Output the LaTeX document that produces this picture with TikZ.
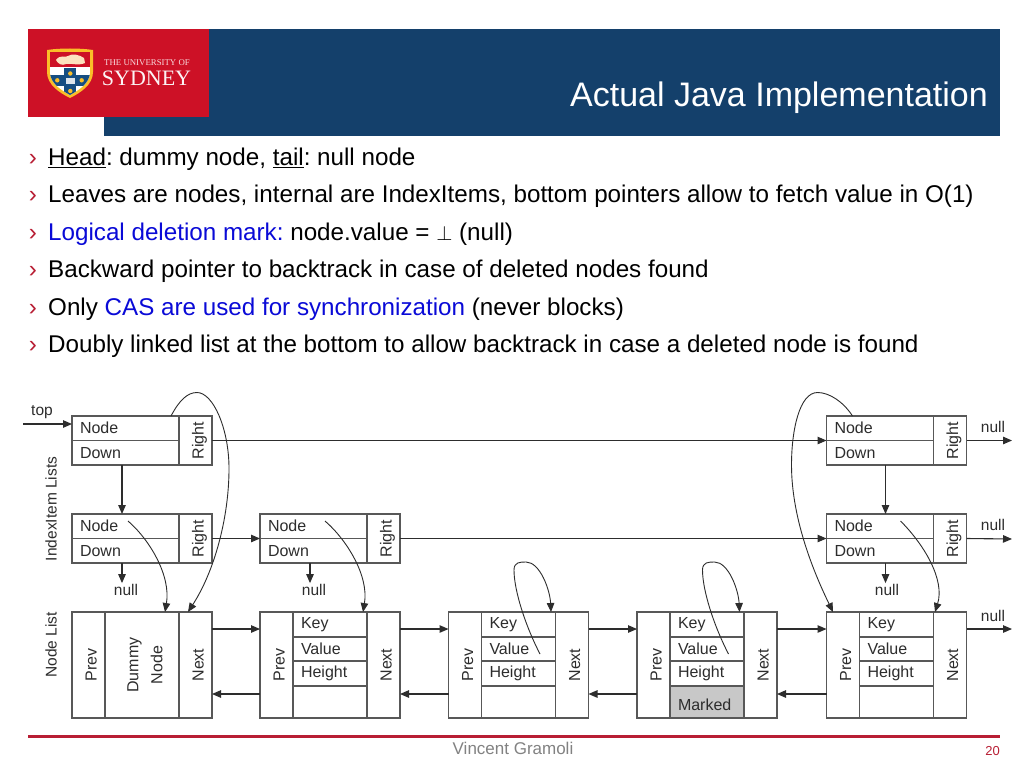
\documentclass[tikz,border=0pt]{standalone}
\usepackage{fontspec}
\usepackage{xcolor}
\usetikzlibrary{arrows.meta}
\setmainfont{Liberation Sans}
\newfontfamily\crestfont{Liberation Serif}
\frenchspacing
\definecolor{sydneyred}{RGB}{205, 17, 38}
\definecolor{sydneyblue}{RGB}{20, 64, 107}
\definecolor{footerred}{RGB}{184, 30, 52}
\definecolor{crestgold}{RGB}{250, 190, 40}
\definecolor{crestblue}{RGB}{22, 78, 130}
\definecolor{crestcream}{RGB}{252, 226, 190}
\definecolor{linkblue}{RGB}{10, 10, 215}
\definecolor{boxgray}{RGB}{88, 88, 88}
\definecolor{labelgray}{RGB}{45, 45, 45}
\definecolor{markedgray}{RGB}{200, 200, 200}
\definecolor{footergray}{RGB}{130, 130, 130}

\tikzset{
  cell/.style={draw=boxgray, line width=1.2pt, inner sep=0pt, outer sep=0pt, text=labelgray,
    font=\fontsize{16}{25}\selectfont},
  lefttext/.style={cell, align=left, inner xsep=8pt, text width=#1-16pt, minimum width=#1},
  sidetext/.style={cell, rotate=90, align=center, text height=16pt, text depth=0pt},
  link/.style={draw=labelgray, line width=1.1pt, -{Stealth[length=9pt,width=7.5pt,inset=0pt]}},
  curvelink/.style={link, line width=0.9pt},
  smalllabel/.style={inner sep=1pt, text=labelgray, font=\fontsize{15.5}{18}\selectfont},
  item/.style={anchor=base west, inner sep=0pt, font=\fontsize{24.2}{28}\selectfont},
  bulletmark/.style={anchor=base, inner sep=0pt, text=footerred, font=\fontsize{24.2}{28}\selectfont}
}

% name, x, y
\newcommand{\indexitem}[3]{
  \node[cell, minimum width=140, minimum height=49] (#1) at (#2+70,#3+24.5) {};
  \node[lefttext=107, minimum height=24.5] (#1node) at (#2+53.5,#3+12.25) {Node};
  \node[lefttext=107, minimum height=24.5] (#1down) at (#2+53.5,#3+36.75) {Down};
  \node[sidetext, minimum width=49, minimum height=33] (#1right) at (#2+123.5,#3+24.5) {Right};
}
% name, x
\newcommand{\listitem}[2]{
  \node[cell, minimum width=140, minimum height=106] (#1) at (#2+70,665) {};
  \node[sidetext, minimum width=106, minimum height=33] (#1prev) at (#2+16.5,665) {Prev};
  \node[lefttext=74, minimum height=25] (#1key) at (#2+70,624.5) {Key};
  \node[lefttext=74, minimum height=24] (#1value) at (#2+70,649) {Value};
  \node[lefttext=74, minimum height=25] (#1height) at (#2+70,673.5) {Height};
  \node[lefttext=74, minimum height=32] (#1low) at (#2+70,702) {};
  \node[sidetext, minimum width=106, minimum height=33] (#1next) at (#2+123.5,665) {Next};
}

\begin{document}
\begin{tikzpicture}[x=1pt, y=-1pt]
\useasboundingbox (0,0) rectangle (1024,768);
\fill[white] (0,0) rectangle (1024,768);

% header
\fill[sydneyblue] (104,29) rectangle (1000,135.5);
\fill[sydneyred] (28,29) rectangle (208.5,117);
\node[anchor=base east, inner sep=0pt, text=white, font=\fontsize{34}{40}\selectfont] (title) at (988,106) {Actual Java Implementation};

% crest
\fill[crestgold] (47,50) .. controls (60,48) and (80,48) .. (93,50) -- (93,72) .. controls (93,85) and (80,93) .. (70,98) .. controls (60,93) and (47,85) .. (47,72) -- cycle;
\begin{scope}
\clip (50,52) -- (90,52) -- (90,72) .. controls (90,83) and (79,90) .. (70,95) .. controls (61,90) and (50,83) .. (50,72) -- cycle;
\fill[white] (50,52) rectangle (90,96);
\fill[sydneyred] (50,52) rectangle (90,67);
\fill[crestblue] (50,75) rectangle (90,85.5);
\fill[crestblue] (64,68) rectangle (76,96);
\end{scope}
\fill[crestcream] (56,60) .. controls (60,54) and (66,58) .. (68,56) .. controls (72,53) and (80,55) .. (84,58) -- (85,63) .. controls (78,66) and (72,63) .. (66,64) .. controls (62,66) and (58,64) .. (56,60) -- cycle;
\fill[crestgold] (70.3,73.5) circle (2.2) (57.3,80.3) circle (2.2) (81.7,80.3) circle (2.2) (70.3,91) circle (2.2);
\fill[white!85!crestblue] (65.5,77.5) rectangle (75,83.5);
\node[anchor=base, inner sep=0pt, text=white!85!sydneyred, font=\crestfont\fontsize{8.8}{10}\selectfont] (crestuni) at (147,65) {THE UNIVERSITY OF};
\node[anchor=base, inner sep=0pt, text=white!95!sydneyred, font=\crestfont\fontsize{22}{24}\selectfont] (crestname) at (146.5,85) {SYDNEY};

% bullets
\node[item] (item1) at (48,165.5) {\underline{Head}: dummy node, \underline{tail}: null node};
\node[item] (item2) at (48,202.9) {Leaves are nodes, internal are IndexItems, bottom pointers allow to fetch value in O(1)};
\node[item] (item3) at (48,240.3) {\textcolor{linkblue}{Logical deletion mark:} node.value = {\fontsize{20}{22}\selectfont$\perp$} (null)};
\node[item] (item4) at (48,277.7) {Backward pointer to backtrack in case of deleted nodes found};
\node[item] (item5) at (48,315.1) {Only \textcolor{linkblue}{CAS are used for synchronization} (never blocks)};
\node[item] (item6) at (48,352.5) {Doubly linked list at the bottom to allow backtrack in case a deleted node is found};
\foreach \n in {1,...,6}
  \node[bulletmark] (mark\n) at ([shift={(-15,0)}]item\n.base west) {›};

% index items
\indexitem{top1}{72}{416}
\indexitem{top2}{826.5}{416}
\indexitem{mid1}{72}{514}
\indexitem{mid2}{260}{514}
\indexitem{mid3}{826.5}{514}

% node list
\node[cell, minimum width=140, minimum height=106] (dummy) at (142,665) {};
\node[sidetext, minimum width=106, minimum height=33] (dummyprev) at (88.5,665) {Prev};
\node[cell, draw=none, rotate=90, align=center, font=\fontsize{16}{24}\selectfont] (dummymid) at (145,665) {Dummy\\Node};
\node[sidetext, minimum width=106, minimum height=33] (dummynext) at (195.5,665) {Next};
\listitem{list2}{260}
\listitem{list3}{448.5}
\listitem{list4}{637}
\listitem{list5}{826.5}
\node[lefttext=74, minimum height=32, fill=markedgray, line width=1.5pt, text height=16pt, text depth=0pt] (marked) at (list4low) {Marked};

% labels
\node[smalllabel] (toplabel) at (42,412) {top};
\node[smalllabel, rotate=90] (indexlabel) at (51,509) {IndexItem Lists};
\node[smalllabel, rotate=90] (listlabel) at (51,645) {Node List};
\node[smalllabel] (null1) at (126,590) {null};
\node[smalllabel] (null2) at (314,590) {null};
\node[smalllabel] (null3) at (887,590) {null};
\node[smalllabel] (null4) at (993,427) {null};
\node[smalllabel] (null5) at (993,525) {null};
\node[smalllabel] (null6) at (993,615.5) {null};
\coordinate (topstart) at (23,424);
\coordinate (end1) at (1012,440.5);
\coordinate (end2) at (1012,539);
\coordinate (end3) at (1012,629);

% straight links
\draw[link] (topstart) -- (topstart -| top1.west);
\draw[link] (top1.east) -- (top2.west);
\draw[link] (top2.east) -- (end1);
\draw[link] (mid1.east) -- (mid2.west);
\draw[link] (mid2.east) -- (mid3.west);
\draw[link] (mid3.east) -- (end2);
\draw[link] ([shift={(-20,0)}]top1.south) -- ([shift={(-20,0)}]mid1.north);
\draw[link] ([shift={(-11,0)}]top2.south) -- ([shift={(-11,0)}]mid3.north);
\draw[link] ([shift={(-20,0)}]mid1.south) -- ([shift={(-20,0)}]mid1.south |- null1.north);
\draw[link] ([shift={(-20,0)}]mid2.south) -- ([shift={(-20,0)}]mid2.south |- null2.north);
\draw[link] ([shift={(-11,0)}]mid3.south) -- ([shift={(-11,0)}]mid3.south |- null3.north);
\draw[link] (dummy.east |- end3) -- (list2.west |- end3);
\draw[link] (list2.east |- end3) -- (list3.west |- end3);
\draw[link] (list3.east |- end3) -- (list4.west |- end3);
\draw[link] (list4.east |- end3) -- (list5.west |- end3);
\draw[link] (list5.east |- end3) -- (end3);
\draw[link] ([shift={(0,29)}]list2.west) -- ([shift={(0,29)}]dummy.east);
\draw[link] ([shift={(0,29)}]list3.west) -- ([shift={(0,29)}]list2.east);
\draw[link] ([shift={(0,29)}]list4.west) -- ([shift={(0,29)}]list3.east);
\draw[link] ([shift={(0,29)}]list5.west) -- ([shift={(0,29)}]list4.east);

% curved links
\draw[curvelink] ([shift={(29,0)}]top1.north) .. controls +(8,-15) and +(-10,0) .. ++(26,-23.5) .. controls +(16,0) and +(0,-40) .. ++(32,76) .. controls +(0,50) and +(26,-40) .. ([shift={(46,0)}]dummy.north);
\draw[curvelink] ([shift={(-14,7)}]mid1.north) .. controls +(22,19) and +(6,-36) .. ([shift={(23,0)}]dummy.north);
\draw[curvelink] ([shift={(-5,7)}]mid2.north) .. controls +(22,19) and +(6,-36) .. ([shift={(33,0)}]list2.north);
\draw[curvelink] ([shift={(4,7)}]mid3.north) .. controls +(24,24) and +(10,-32) .. ([shift={(38.5,0)}]list5.north);
\draw[curvelink] ([shift={(-44,0)}]top2.north) .. controls +(-9,-14) and +(12,0) .. ++(-35,-23.5) .. controls +(-18,0) and +(0,-35) .. ++(-26,72.5) .. controls +(0,55) and +(-18,-37) .. ([shift={(-63.5,0)}]list5.north);
\foreach \n in {list3,list4}
  \draw[curvelink] ([shift={(21.5,42)}]\n.north) .. controls +(-15,-29) and +(0,20) .. ++(-26,-84) .. controls +(0,-8) and +(-6,0) .. ++(12,-8) .. controls +(14,0) and +(-1,-22) .. ([shift={(32.5,0)}]\n.north);

% footer
\draw[footerred, line width=3pt] (28,736) -- (1000,736);
\node[anchor=base, inner sep=0pt, text=footergray, font=\fontsize{17}{19}\selectfont] (author) at (513,754.5) {Vincent Gramoli};
\node[anchor=base east, inner sep=0pt, text=footerred, font=\fontsize{13}{15}\selectfont] (page) at (1000,755.5) {20};
\end{tikzpicture}
\end{document}
